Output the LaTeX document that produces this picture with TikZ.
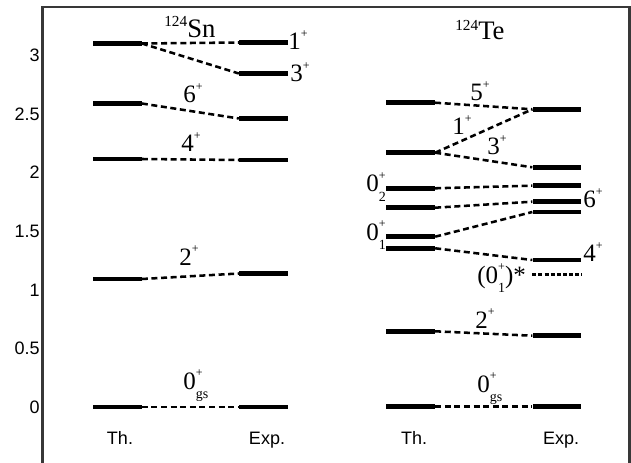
\documentclass[tikz,border=0pt]{standalone}
\usepackage{fontspec}
\setmainfont{Liberation Serif}
\setsansfont{Liberation Sans}
\newcommand{\mysup}{\raisebox{9.7pt}{\fontsize{9}{9}\selectfont +}}
\newcommand{\lvl}[1]{{\fontsize{18.75}{20}\selectfont #1\mysup}}
\newcommand{\lvls}[2]{{\fontsize{18.75}{20}\selectfont #1\makebox[0pt][l]{\mysup}\raisebox{-7pt}{\fontsize{10.5}{10.5}\selectfont #2}}}
\begin{document}
\begin{tikzpicture}[x=0.75pt,y=-0.75pt,
  level/.style={fill=black,inner sep=0pt,minimum width=36.6pt,minimum height=3.4pt},
  dotlev/.style={inner sep=0pt,minimum width=36.6pt,minimum height=0pt},
  dotline/.style={line width=2.5pt,dash pattern=on 3pt off 1.6pt},
  link/.style={line width=1.9pt,dash pattern=on 4.5pt off 2.7pt},
  tick/.style={font=\sffamily\fontsize{13.5}{13.5}\selectfont,anchor=base east,inner sep=0pt},
  col/.style={font=\sffamily\fontsize{13.5}{13.5}\selectfont,anchor=base,inner sep=0pt},
  spin/.style={anchor=base west,inner sep=0pt},
  head/.style={anchor=base west,inner sep=0pt}]
\useasboundingbox (0,0) rectangle (631,463);
% frame
\draw[line width=1.9pt,black!78] (42.5,463) -- (42.5,7) -- (629.5,7) -- (629.5,463);
% ticks
\foreach \t [count=\i] in {0,0.5,1,1.5,2,2.5,3}
  \node[tick] (tk\i) at (40,{413.2-117.2*\t}) {\t};
% column labels
\node[col] (snth) at (120,444) {Th.};
\node[col] (snex) at (267,444) {Exp.};
\node[col] (teth) at (414,444) {Th.};
\node[col] (teex) at (561,444) {Exp.};
% headings
\node[head] (hsn) at (164,38) {\raisebox{8.5pt}{\fontsize{11.5}{12}\selectfont 124}{\fontsize{20}{22}\selectfont Sn}};
\node[head] (hte) at (455,40) {\raisebox{7pt}{\fontsize{11.5}{12}\selectfont 124}{\fontsize{20}{22}\selectfont Te}};
% Sn levels
\node[level] (s0) at (117.2,407) {};
\node[level] (s2) at (117.2,279) {};
\node[level] (s4) at (117.2,159) {};
\node[level] (s6) at (117.2,103.5) {};
\node[level] (s1) at (117.2,43.5) {};
\node[level] (e0) at (263.5,407) {};
\node[level] (e2) at (263.5,273.5) {};
\node[level] (e4) at (263.5,160) {};
\node[level] (e6) at (263.5,118.5) {};
\node[level] (e3) at (263.5,73.5) {};
\node[level] (e1) at (263.5,42.5) {};
% Te levels
\node[level] (ta) at (410.5,102.7) {};
\node[level] (tb) at (410.5,152.7) {};
\node[level] (tc) at (410.5,188.3) {};
\node[level] (td) at (410.5,207.7) {};
\node[level] (tf) at (410.5,236.7) {};
\node[level] (tg) at (410.5,248.3) {};
\node[level] (th) at (410.5,331.3) {};
\node[level] (ti) at (410.5,406.5) {};
\node[level] (xa) at (557,109.3) {};
\node[level] (xb) at (557,167.3) {};
\node[level] (xc) at (557,185.7) {};
\node[level] (xd) at (557,201.7) {};
\node[level] (xf) at (557,212) {};
\node[level] (xg) at (557,260) {};
\node[level] (xh) at (557,335.7) {};
\node[level] (xi) at (557,406.5) {};
\node[dotlev] (xs) at (557,274.3) {};
\draw[dotline] (xs.west) -- (xs.east);
% Sn connectors
\draw[link] (s0.east) -- (e0.west);
\draw[link] (s2.east) -- (e2.west);
\draw[link] (s4.east) -- (e4.west);
\draw[link] (s6.east) -- (e6.west);
\draw[link] (s1.east) -- (e1.west);
\draw[link] (s1.east) -- (e3.west);
% Te connectors
\draw[link] (ta.east) -- (xa.west);
\draw[link] (tb.east) -- (xa.west);
\draw[link] (tb.east) -- (xb.west);
\draw[link] (tc.east) -- (xc.west);
\draw[link] (td.east) -- (xd.west);
\draw[link] (tf.east) -- (xf.west);
\draw[link] (tg.east) -- (xg.west);
\draw[link] (th.east) -- (xh.west);
\draw[link] (ti.east) -- (xi.west);
% Sn labels
\node[spin] (l1) at (288,50) {\lvl{1}};
\node[spin] (l3) at (290,82) {\lvl{3}};
\node[spin] (l6) at (183,103) {\lvl{6}};
\node[spin] (l4) at (181,152) {\lvl{4}};
\node[spin] (l2) at (179,265) {\lvl{2}};
\node[spin] (l0) at (183,389) {\lvls{0}{gs}};
% Te labels
\node[spin] (m5) at (470,101) {\lvl{5}};
\node[spin] (m1) at (452,135) {\lvl{1}};
\node[spin] (m3) at (487,155) {\lvl{3}};
\node[spin] (m02) at (366,192) {\lvls{0}{2}};
\node[spin] (m6) at (583,208) {\lvl{6}};
\node[spin] (m01) at (366,240) {\lvls{0}{1}};
\node[spin] (m4) at (583,262) {\lvl{4}};
\node[spin] (ms) at (477,283) {{\fontsize{18.75}{20}\selectfont (}\lvls{0}{1}{\fontsize{18.75}{20}\selectfont )*}};
\node[spin] (m2) at (475,328) {\lvl{2}};
\node[spin] (m0) at (477,392) {\lvls{0}{gs}};
\end{tikzpicture}
\end{document}
